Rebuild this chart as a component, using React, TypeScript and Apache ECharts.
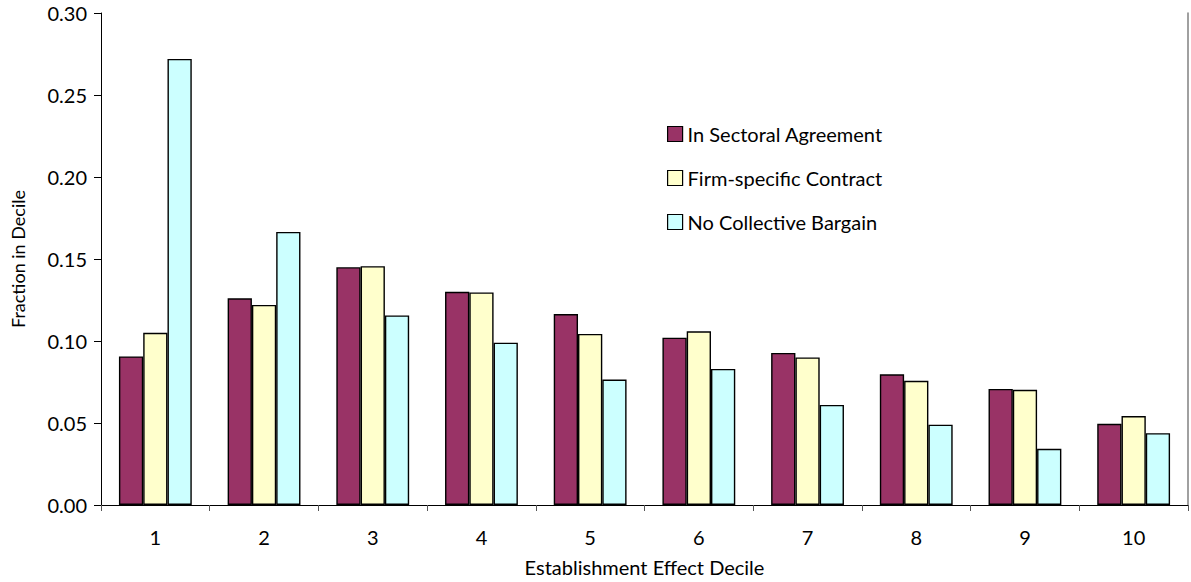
import { useEffect, useRef } from "react";
import * as echarts from "echarts";
import type { EChartsOption } from "echarts";

const deciles = ["1", "2", "3", "4", "5", "6", "7", "8", "9", "10"];
const sectoral = [0.0906, 0.126, 0.145, 0.13, 0.1164, 0.102, 0.0927, 0.0797, 0.0708, 0.0495];
const firmSpecific = [0.105, 0.122, 0.1456, 0.1296, 0.1043, 0.1059, 0.09, 0.0757, 0.0702, 0.0542];
const noBargain = [0.272, 0.1665, 0.1156, 0.099, 0.0765, 0.083, 0.061, 0.049, 0.0343, 0.0438];
const seriesNames = ["In Sectoral Agreement", "Firm-specific Contract", "No Collective Bargain"];
const seriesColors = ["#993366", "#FFFFCC", "#CCFFFF"];

const font = "Lato, 'Noto Sans', sans-serif";

export default function App() {
  const chartRef = useRef<HTMLDivElement>(null);

  useEffect(() => {
    if (!chartRef.current) return;
    const chart = echarts.init(chartRef.current, undefined, { renderer: "svg" });

    const values = [sectoral, firmSpecific, noBargain];
    const series = values.map((data, i) => ({
      name: seriesNames[i],
      type: "bar" as const,
      data,
      barGap: "0%",
      barCategoryGap: "33%",
      itemStyle: {
        color: seriesColors[i],
        borderColor: "#000",
        borderWidth: 1.4,
      },
    }));

    const option: EChartsOption = {
      animation: false,
      textStyle: { fontFamily: font, color: "#000" },
      grid: { left: 101, right: 3, top: 13, bottom: 74 },
      legend: {
        orient: "vertical",
        left: 662,
        top: 119,
        itemWidth: 15,
        itemHeight: 15,
        itemGap: 24,
        icon: "rect",
        data: seriesNames,
        textStyle: { fontFamily: font, fontSize: 20, lineHeight: 20, color: "#000" },
        itemStyle: { borderColor: "#000", borderWidth: 1.2 },
        selectedMode: false,
      },
      xAxis: [
        {
          type: "category",
          data: deciles,
          boundaryGap: true,
          name: "Establishment Effect Decile",
          nameLocation: "middle",
          nameGap: 52,
          nameTextStyle: { fontFamily: font, fontSize: 20, color: "#000" },
          axisLine: { lineStyle: { color: "#000", width: 1 } },
          axisTick: { show: true, length: 6, lineStyle: { color: "#555" } },
          axisLabel: { fontFamily: font, fontSize: 20, color: "#000", margin: 22 },
        },
        {
          type: "category",
          data: deciles,
          position: "top",
          axisLine: { show: true, lineStyle: { color: "#000", width: 1.2 } },
          axisTick: { show: false },
          axisLabel: { show: false },
        },
      ],
      yAxis: [
        {
          type: "value",
          min: 0,
          max: 0.3,
          interval: 0.05,
          name: "Fraction in Decile",
          nameLocation: "middle",
          nameGap: 74,
          nameTextStyle: { fontFamily: font, fontSize: 18, color: "#000" },
          splitLine: { show: false },
          axisLine: { show: true, lineStyle: { color: "#000", width: 1 } },
          axisTick: { show: true, length: 7, lineStyle: { color: "#000" } },
          axisLabel: {
            fontFamily: font,
            fontSize: 20,
            color: "#000",
            margin: 14,
            formatter: (v: number) => v.toFixed(2),
          },
        },
        {
          type: "value",
          min: 0,
          max: 0.3,
          interval: 0.05,
          position: "right",
          splitLine: { show: false },
          axisLine: { show: true, lineStyle: { color: "#808080", width: 1.5 } },
          axisTick: { show: false },
          axisLabel: { show: false },
        },
      ],
      series,
    };

    chart.setOption(option);
    return () => {
      chart.dispose();
    };
  }, []);

  return (
    <div
      ref={chartRef}
      style={{ position: "absolute", left: 0, top: 0, width: 1191, height: 582, background: "#fff" }}
    />
  );
}
